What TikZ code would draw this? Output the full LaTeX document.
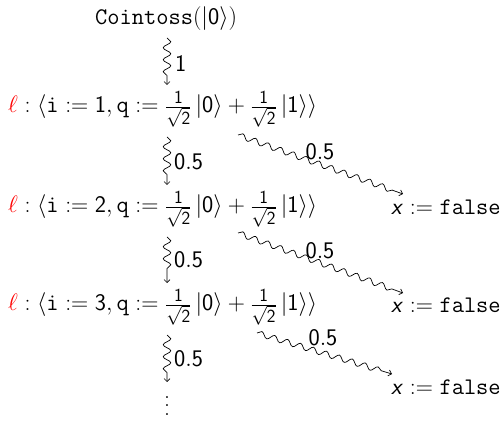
\RequirePackage{fix-cm}
\documentclass[tikz,border=0pt]{standalone}
\usepackage{xcolor}
\usetikzlibrary{decorations.pathmorphing,arrows.meta}
\DeclareMathSizes{23.8}{23.8}{18.5}{14}
\newcommand{\sd}[1]{\mathsf{#1}}
\newcommand{\myket}[1]{|\sd{#1}\rangle}
\newcommand{\myfr}{\frac{\sd{1}}{\sqrt{\sd{2}}}}
\newcommand{\myrow}[1]{$\textcolor{red}{\ell}:\langle\mathtt{i}:=\sd{#1},\mathtt{q}:=\myfr\,\myket{0}+\myfr\,\myket{1}\rangle$}
\newcommand{\myfalse}{$\textsf{\textit{x}}:=\mathtt{false}$}
\tikzset{
  txt/.style={inner sep=0pt, font=\fontsize{23.8}{28}\selectfont},
  vwave/.style={draw, line width=0.7pt, decorate, decoration={snake, amplitude=3.8pt, segment length=12pt, post length=9pt},
    -{Straight Barb[length=3pt,width=6pt]}},
  dwave/.style={draw, line width=0.7pt, decorate, decoration={snake, amplitude=2.8pt, segment length=13.5pt, post length=8pt},
    -{Straight Barb[length=3pt,width=6pt]}},
}
\begin{document}
\begin{tikzpicture}[x=1pt,y=-1pt]
\useasboundingbox (0,0) rectangle (504,422);
\node[txt, anchor=base] (c) at (166,25) {\texttt{Cointoss}$(\myket{0})$};
\node[txt, anchor=base west] (r1) at (8,113) {\myrow{1}};
\node[txt, anchor=base west] (r2) at (8,213) {\myrow{2}};
\node[txt, anchor=base west] (r3) at (8,311) {\myrow{3}};
\node[txt, anchor=base west] (f1) at (391,215) {\myfalse};
\node[txt, anchor=base west] (f2) at (391,313) {\myfalse};
\node[txt, anchor=base west] (f3) at (391,395) {\myfalse};
\node[txt, anchor=north] (dots) at (167,396) {\vbox{\baselineskip=8.5pt\lineskiplimit=0pt\hbox{.}\hbox{.}\hbox{.}}};
% coordinates
\coordinate (a0s) at (167,38);  \coordinate (a0e) at (167,85);
\coordinate (a1s) at (167,137); \coordinate (a1e) at (167,185);
\coordinate (a2s) at (167,237); \coordinate (a2e) at (167,283);
\coordinate (a3s) at (167,335); \coordinate (a3e) at (167,382);
\coordinate (d1s) at (238,135); \coordinate (d1e) at (403,194);
\coordinate (d2s) at (238,233); \coordinate (d2e) at (403,293);
\coordinate (d3s) at (257,333); \coordinate (d3e) at (392,374);
\draw[vwave] (a0s) -- (a0e);
\draw[vwave] (a1s) -- (a1e);
\draw[vwave] (a2s) -- (a2e);
\draw[vwave] (a3s) -- (a3e);
\draw[dwave] (d1s) -- (d1e);
\draw[dwave] (d2s) -- (d2e);
\draw[dwave] (d3s) -- (d3e);
\node[txt, anchor=west] (l0) at (175,64) {$\sd{1}$};
\node[txt, anchor=west] (l1) at (174,162) {$\sd{0.5}$};
\node[txt, anchor=west] (l2) at (174,260) {$\sd{0.5}$};
\node[txt, anchor=west] (l3) at (174,359) {$\sd{0.5}$};
\node[txt] (m1) at (320,152) {$\sd{0.5}$};
\node[txt] (m2) at (320,251) {$\sd{0.5}$};
\node[txt] (m3) at (323,338) {$\sd{0.5}$};
\end{tikzpicture}
\end{document}
